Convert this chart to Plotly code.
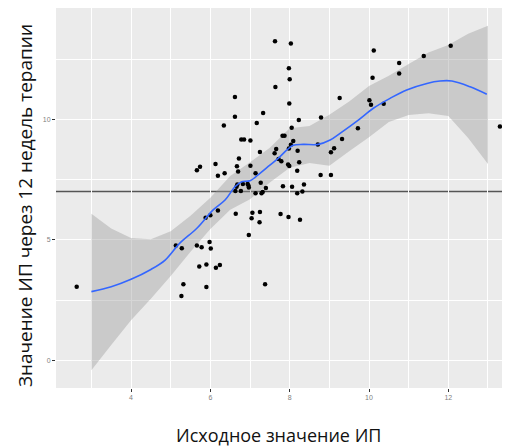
import plotly.graph_objects as go

# ---- data ----
baseline_ip = [7.63, 8.03, 10.12, 12.06, 11.38, 10.76, 10.76, 10.09, 7.98, 8.00,
               7.64, 6.62, 9.26, 10.01, 10.05, 10.37, 7.99, 6.62, 7.33, 8.79,
               8.23, 6.34, 7.17, 8.05, 9.72, 13.30, 7.82, 7.87, 6.78, 6.85,
               7.01, 8.09, 8.03, 8.71, 9.12, 9.04, 9.32, 7.66, 7.98, 7.62,
               7.25, 8.20, 7.72, 7.79, 6.72, 7.96, 7.99, 8.24, 6.13, 5.74,
               5.66, 6.67, 7.01, 6.70, 8.19, 6.36, 6.19, 7.14, 8.78, 9.04,
               7.27, 6.68, 6.66, 6.82, 6.94, 6.96, 6.97, 6.63, 6.77, 7.14,
               7.32, 7.29, 7.40, 7.83, 8.06, 8.36, 8.19, 8.32, 6.64, 7.06,
               7.25, 7.77, 7.04, 7.97, 8.26, 6.00, 5.88, 6.19, 7.24, 6.97,
               5.13, 5.28, 5.66, 5.78, 5.98, 6.01, 2.63, 5.72, 5.90, 6.14,
               6.24, 5.32, 5.90, 5.27, 7.38]
week12_ip = [13.24, 13.15, 12.86, 13.05, 12.63, 12.34, 11.90, 11.73, 12.12, 11.66,
             11.34, 10.93, 10.88, 10.79, 10.61, 10.65, 10.66, 10.11, 10.26, 10.08,
             9.97, 9.74, 9.85, 9.65, 9.63, 9.70, 9.32, 9.32, 9.16, 9.16,
             9.12, 9.10, 8.95, 8.96, 8.80, 8.63, 9.18, 8.77, 8.79, 8.59,
             8.64, 8.70, 8.35, 8.26, 8.37, 8.13, 8.06, 8.22, 8.15, 8.03,
             7.89, 8.05, 8.07, 7.83, 7.87, 7.76, 7.66, 7.76, 7.69, 7.69,
             7.37, 7.30, 7.20, 7.32, 7.32, 7.25, 7.17, 7.03, 7.03, 6.93,
             6.98, 6.93, 7.15, 7.22, 7.20, 7.30, 6.93, 7.00, 6.08, 6.12,
             6.15, 6.07, 5.89, 5.95, 5.83, 6.02, 5.92, 6.22, 5.73, 5.20,
             4.76, 4.65, 4.76, 4.69, 4.91, 4.64, 3.05, 3.89, 3.98, 3.84,
             3.95, 3.16, 3.04, 2.67, 3.16]

smooth_x = [3.0, 3.5, 4.0, 4.5, 4.86, 5.23, 5.66, 6.07, 6.37, 6.62, 6.79, 7.0,
            7.25, 7.5, 7.71, 7.93, 8.09, 8.34, 8.72, 9.02, 9.27, 9.73, 10.11,
            10.53, 10.95, 11.46, 11.79, 12.09, 12.55, 12.97]
smooth_y = [2.85, 3.05, 3.36, 3.77, 4.16, 4.86, 5.48, 6.24, 6.65, 7.20, 7.41, 7.45,
            7.76, 8.10, 8.38, 8.73, 8.92, 8.96, 8.96, 9.14, 9.42, 9.97, 10.46,
            10.87, 11.22, 11.49, 11.59, 11.59, 11.35, 11.04]

band_x = [3, 3.5, 4, 4.5, 5, 5.5, 6, 6.5, 7, 7.5, 8, 8.5, 9, 9.5, 10, 10.5,
          11, 11.5, 12, 12.5, 13]
band_upper = [6.08, 5.47, 5.07, 5.02, 5.36, 6.00, 6.75, 7.65, 8.22, 8.82, 9.63,
              9.72, 10.19, 10.74, 11.38, 11.81, 12.30, 12.77, 13.08, 13.55, 13.88]
band_lower = [-0.41, 0.63, 1.66, 2.55, 3.50, 4.50, 5.45, 6.25, 6.68, 7.38, 7.99,
              8.19, 8.07, 8.67, 9.26, 9.89, 10.18, 10.25, 10.14, 9.22, 8.15]

threshold = 7
x_ticks = [4, 6, 8, 10, 12]
y_ticks = [0, 5, 10]
x_title = "Исходное значение ИП"
y_title = "Значение ИП через 12 недель терапии"

fig = go.Figure()
fig.add_trace(go.Scatter(
    x=band_x + band_x[::-1], y=band_upper + band_lower[::-1],
    fill="toself", fillcolor="rgba(153,153,153,0.4)",
    line=dict(width=0), mode="lines", hoverinfo="skip", showlegend=False))
fig.add_trace(go.Scatter(
    x=baseline_ip, y=week12_ip, mode="markers",
    marker=dict(color="black", size=4.5), showlegend=False))
fig.add_trace(go.Scatter(
    x=smooth_x, y=smooth_y, mode="lines",
    line=dict(color="#3366FF", width=1.6, shape="spline"), showlegend=False))

fig.add_shape(type="line", xref="paper", x0=0, x1=1, yref="y",
              y0=threshold, y1=threshold, layer="between",
              line=dict(color="#555555", width=1.5))

axis_common = dict(
    showgrid=True, gridcolor="white", gridwidth=1.1,
    zeroline=False, showline=False,
    ticks="outside", ticklen=3, tickwidth=1, tickcolor="#333333",
    tickfont=dict(size=7, color="#7F7F7F", family="Liberation Sans"),
)
fig.update_xaxes(range=[2.108, 13.555], tickmode="array", tickvals=x_ticks,
                 minor=dict(dtick=1, tick0=1, showgrid=True, gridcolor="white",
                            gridwidth=0.5, ticks=""),
                 **axis_common)
fig.update_yaxes(range=[-1.15, 14.62], tickmode="array", tickvals=y_ticks,
                 minor=dict(dtick=2.5, tick0=0, showgrid=True, gridcolor="white",
                            gridwidth=0.5, ticks=""),
                 **axis_common)

# the page body has an 8px margin, so the figure is sized to fit the window
fig.update_layout(
    width=502, height=439,
    margin=dict(l=48, r=0, t=0, b=59),
    plot_bgcolor="#EBEBEB", paper_bgcolor="white",
    showlegend=False,
    annotations=[
        dict(text=x_title, xref="paper", yref="paper", x=0.489, y=-0.1237,
             xanchor="center", yanchor="middle", showarrow=False,
             font=dict(size=18, color="#111111", family="Open Sans")),
        dict(text=y_title, xref="paper", yref="paper", x=-0.068, y=0.479,
             xanchor="center", yanchor="middle", textangle=-90, showarrow=False,
             font=dict(size=19, color="#111111", family="Open Sans")),
    ],
)

fig.write_html("out.html")
